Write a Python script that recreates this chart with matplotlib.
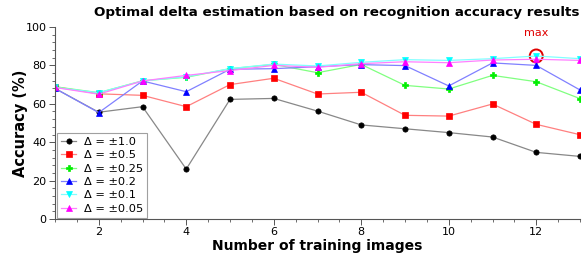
import matplotlib

matplotlib.use("Agg")

import matplotlib.pyplot as plt
from matplotlib.patches import Ellipse
from matplotlib.ticker import AutoMinorLocator, MultipleLocator

n_images = [1, 2, 3, 4, 5, 6, 7, 8, 9, 10, 11, 12, 13]

acc_d100 = [68.0, 55.6, 58.5, 26.0, 62.3, 62.8, 56.2, 49.0, 47.0, 45.0, 42.7, 34.7, 32.6]
acc_d050 = [68.9, 65.2, 64.4, 58.5, 70.0, 73.3, 65.1, 66.0, 54.0, 53.6, 59.9, 49.3, 43.9]
acc_d025 = [68.9, 65.8, 72.0, 73.8, 78.3, 80.5, 76.2, 80.5, 69.6, 67.7, 74.8, 71.5, 62.7]
acc_d020 = [68.0, 55.4, 71.9, 66.3, 78.0, 78.3, 79.3, 80.4, 79.9, 69.3, 81.3, 80.0, 67.2]
acc_d010 = [68.5, 65.8, 71.9, 74.1, 78.3, 80.7, 79.7, 81.6, 83.0, 82.6, 83.5, 84.9, 83.5]
acc_d005 = [68.5, 65.0, 71.9, 74.8, 77.3, 80.0, 79.0, 80.9, 81.9, 81.4, 82.8, 83.2, 82.6]

labels = ["Δ = ±1.0", "Δ = ±0.5", "Δ = ±0.25", "Δ = ±0.2", "Δ = ±0.1", "Δ = ±0.05"]

max_x = 12
max_y = 84.9

series = [acc_d100, acc_d050, acc_d025, acc_d020, acc_d010, acc_d005]
styles = [
    ("#000000", "#888888", "o", 3.8),
    ("#ff0000", "#ff8080", "s", 4.3),
    ("#00ee00", "#80ff80", "P", 4.0),
    ("#0000ff", "#8080ff", "^", 4.0),
    ("#00ffff", "#80ffff", "v", 4.0),
    ("#ff00ff", "#ff80ff", "^", 4.0),
]

fig = plt.figure(figsize=(5.84, 2.6), dpi=100)
ax = fig.add_axes([55 / 584, 41 / 260, 525 / 584, 192 / 260])

for values, label, (mcolor, lcolor, marker, ms) in zip(series, labels, styles):
    ax.plot(
        n_images,
        values,
        color=lcolor,
        linewidth=0.9,
        marker=marker,
        markersize=ms,
        markerfacecolor=mcolor,
        markeredgecolor=mcolor,
        markeredgewidth=0.5,
        label=label,
    )

ax.set_xlim(1, 13)
ax.set_ylim(0, 100)
ax.xaxis.set_major_locator(MultipleLocator(2))
ax.xaxis.set_minor_locator(AutoMinorLocator(4))
ax.yaxis.set_major_locator(MultipleLocator(20))
ax.yaxis.set_minor_locator(AutoMinorLocator(5))
ax.spines["top"].set_visible(False)
ax.spines["right"].set_visible(False)
for side in ("left", "bottom"):
    ax.spines[side].set_color("#555555")
    ax.spines[side].set_linewidth(0.8)
ax.tick_params(which="major", length=4, width=0.7, color="#555555", labelsize=8, pad=2)
ax.tick_params(which="minor", length=2.5, width=0.6, color="#555555")

ax.set_xlabel("Number of training images", fontsize=10, fontweight="bold", labelpad=1)
ax.set_ylabel("Accuracy (%)", fontsize=10.5, fontweight="bold")
ax.yaxis.set_label_coords(-0.052, 0.5)
fig.text(337 / 584, 1 - 12 / 260, "Optimal delta estimation based on recognition accuracy results",
         ha="center", va="center", fontsize=9.7, fontweight="bold")

# circle round the best point (in pixel-ish aspect)
px_per_x = 525 / 12
px_per_y = 192 / 100
ax.add_patch(Ellipse((max_x, max_y), width=13 / px_per_x, height=13 / px_per_y,
                     fill=False, edgecolor="#e00000", linewidth=1.4, clip_on=False))
ax.annotate("max", xy=(max_x, max_y), xytext=(0, 13), textcoords="offset points",
            ha="center", va="bottom", color="#e00000", fontsize=8)

leg = ax.legend(loc="lower left", bbox_to_anchor=(0.002, 0.0), fontsize=8.2, frameon=True,
                fancybox=False, edgecolor="#888888", handlelength=1.3, handletextpad=0.7,
                borderpad=0.35, labelspacing=0.3, borderaxespad=0.1)
leg.get_frame().set_linewidth(0.8)

fig.savefig("out.png", dpi=100)
